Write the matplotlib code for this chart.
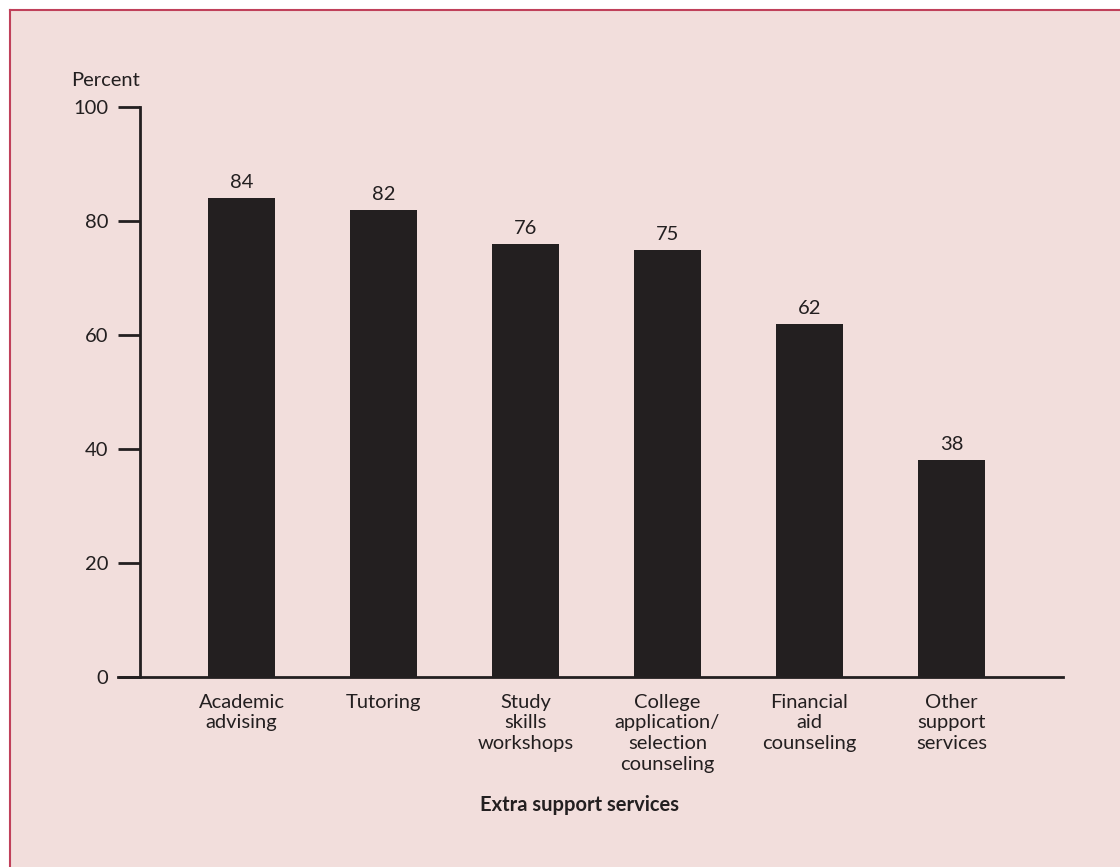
import matplotlib as mpl
mpl.rcParams["font.family"] = ['Lato', 'DejaVu Sans']
import matplotlib.pyplot as plt
from matplotlib.patches import Rectangle

# data
categories = ['Academic\nadvising', 'Tutoring', 'Study\nskills\nworkshops',
              'College\napplication/\nselection\ncounseling', 'Financial\naid\ncounseling',
              'Other\nsupport\nservices']
values = [84, 82, 76, 75, 62, 38]
yticks = [0, 20, 40, 60, 80, 100]

ink = '#231f20'
pink = '#f2dedc'
W, H = 1120, 867
fs = 14.5

fig = plt.figure(figsize=(W/100, H/100), dpi=100)
fig.patch.set_facecolor('white')
# pink panel with border on top and left
fig.patches.append(Rectangle((10/W, 0), 1, 1 - 10/H, transform=fig.transFigure,
                             facecolor=pink, edgecolor='none', zorder=-10))
fig.lines.append(plt.Line2D([10/W, 1], [1 - 10/H, 1 - 10/H], transform=fig.transFigure,
                            color='#c0405a', lw=1.5, zorder=-5))
fig.lines.append(plt.Line2D([10/W, 10/W], [0, 1 - 10/H], transform=fig.transFigure,
                            color='#c0405a', lw=1.5, zorder=-5))

ax = fig.add_axes([118/W, (H-677)/H, (1063-118)/W, (677-107)/H])
ax.set_facecolor('none')

x = list(range(len(values)))
ax.bar(x, values, width=0.47, color=ink, zorder=2)
for xi, v in zip(x, values):
    ax.annotate(str(v), (xi, v), xytext=(0, 5), textcoords='offset points',
                ha='center', va='bottom', fontsize=fs, color=ink)

ax.set_xlim(-0.87, 5.785)
ax.set_ylim(0, 100)
ax.spines['top'].set_visible(False)
ax.spines['right'].set_visible(False)
ax.spines['left'].set_position(('data', -0.715))
ax.spines['left'].set_bounds(0, 100)
for s in ['left', 'bottom']:
    ax.spines[s].set_color(ink)
    ax.spines[s].set_linewidth(2)

ax.set_yticks(yticks)
ax.set_yticklabels([str(t) for t in yticks])
ax.tick_params(axis='y', direction='out', length=16, width=2, color=ink,
               labelsize=fs, labelcolor=ink, pad=7)
ax.set_xticks(x)
ax.set_xticklabels(categories, linespacing=1.27)
ax.tick_params(axis='x', length=0, labelsize=fs, labelcolor=ink, pad=12)

ax.text(-0.715, 100 + 18/5.7, 'Percent', transform=ax.transData, ha='right', va='bottom',
        fontsize=fs, color=ink)
fig.text(579/W, 1 - 805/H, 'Extra support services', ha='center', va='center',
         fontsize=fs, fontweight='bold', color=ink)

fig.savefig('out.png', dpi=100)
